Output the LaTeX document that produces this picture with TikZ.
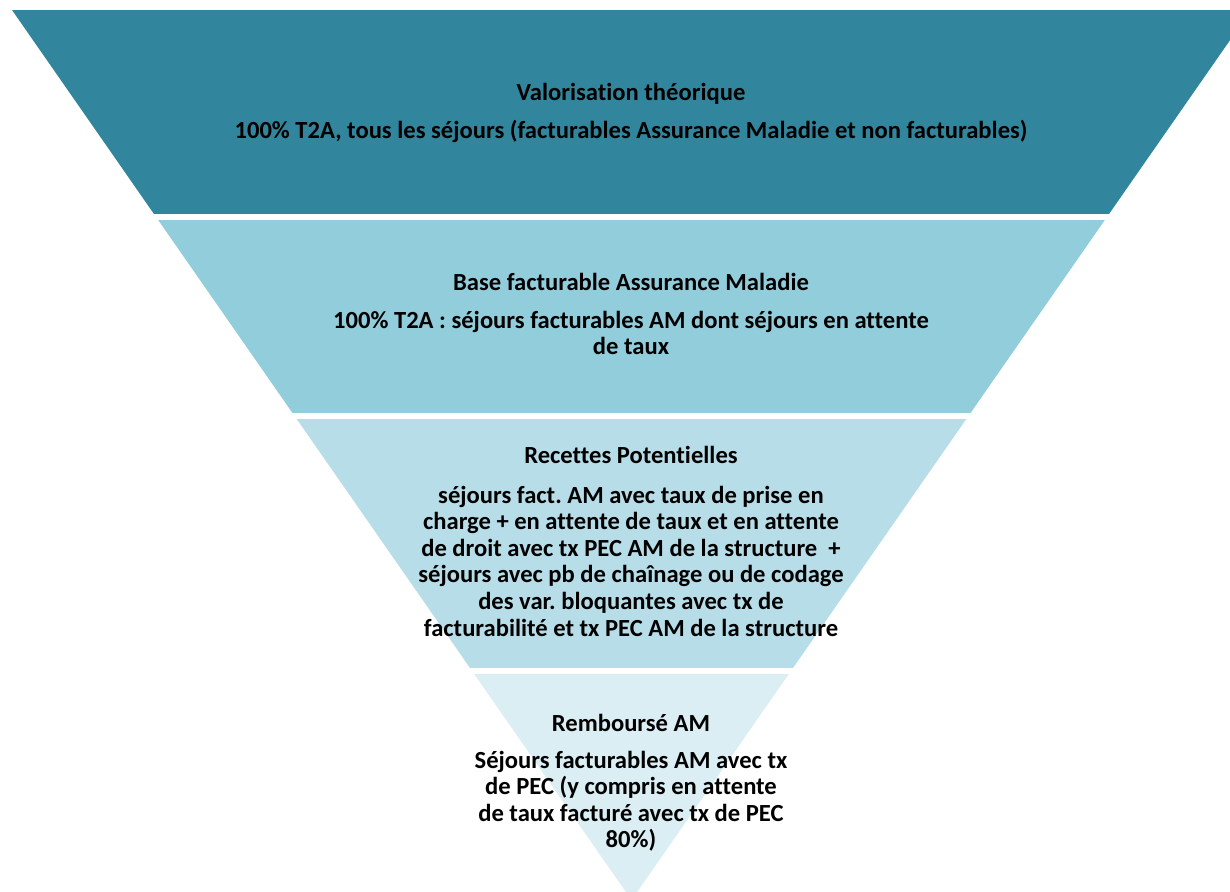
\documentclass[tikz,border=0pt]{standalone}
\usepackage{fontspec}
\setmainfont{Carlito}[Ligatures={NoCommon}]
\frenchspacing
\definecolor{bandA}{HTML}{31859C}
\definecolor{bandB}{HTML}{92CDDC}
\definecolor{bandC}{HTML}{B7DEE8}
\definecolor{bandD}{HTML}{DAEEF3}
\newcommand{\lines}[1]{\begin{tabular}[t]{@{}c@{}}#1\end{tabular}}
\begin{document}
\begin{tikzpicture}[x=0.5pt, y=-0.5pt,
    title/.style={font=\fontsize{12.3}{13.3}\selectfont\bfseries, anchor=base, inner sep=0pt},
    body/.style={title}]
    \useasboundingbox (0,0) rectangle (1230,891);

    % Funnel bands, cut out of one triangle
    \begin{scope}
        \clip (12,10) -- (1251,10) -- (631.5,900) -- cycle;
        \foreach \ya/\yb/\col in {10/214/bandA, 220/413/bandB, 419/668/bandC, 674/900/bandD} {
            \fill[\col] (0,\ya) rectangle (1260,\yb);
        }
    \end{scope}

    % Valorisation
    \node[title] (valT) at (631,100) {Valorisation théorique};
    \node[body] (valB) at (631,138) {\lines{100\% T2A, tous les séjours (facturables Assurance Maladie et non facturables)}};

    % Base facturable
    \node[title] (baseT) at (631,290) {Base facturable Assurance Maladie};
    \node[body] (baseB) at (631,328) {\lines{100\% T2A : séjours facturables AM dont séjours en attente\\de taux}};

    % Recettes
    \node[title] (recT) at (631,463) {Recettes Potentielles};
    \node[body] (recB) at (631,503) {\lines{séjours fact. AM avec taux de prise en\\charge + en attente de taux et en attente\\de droit avec tx PEC AM de la structure \ +\\séjours avec pb de chaînage ou de codage\\des var. bloquantes avec tx de\\facturabilité et tx PEC AM de la structure}};

    % Rembourse
    \node[title] (remT) at (631,731) {Remboursé AM};
    \node[body] (remB) at (631,768) {\lines{Séjours facturables AM avec tx\\de PEC (y compris en attente\\de taux facturé avec tx de PEC\\80\%)}};
\end{tikzpicture}
\end{document}
